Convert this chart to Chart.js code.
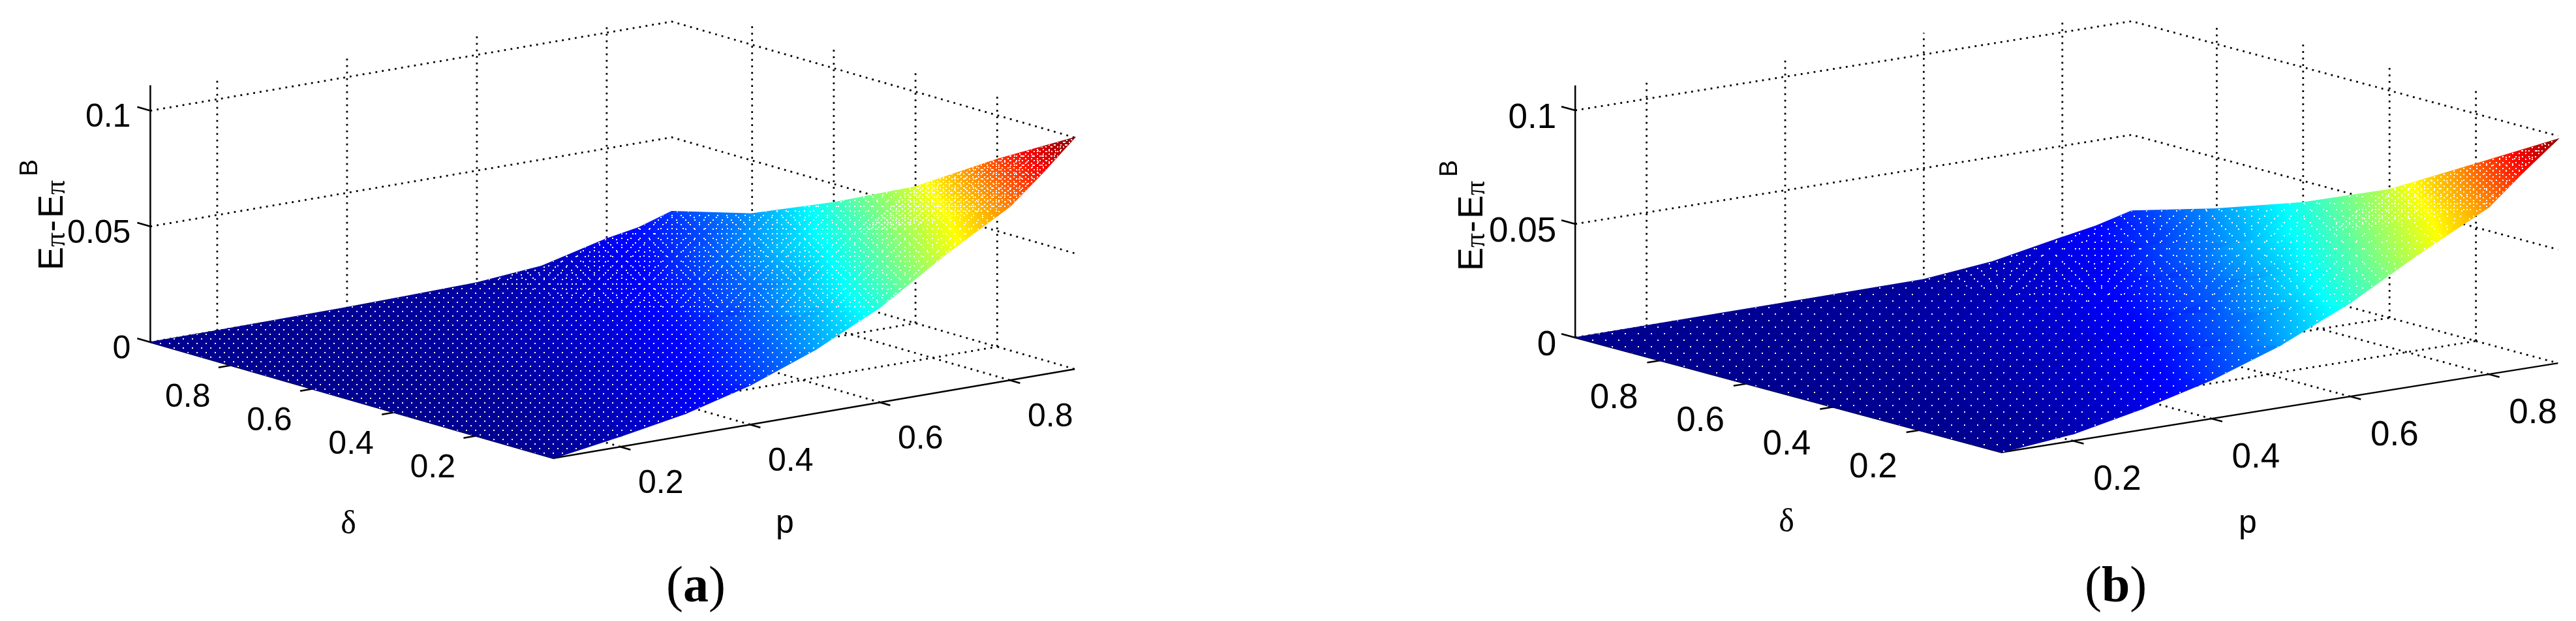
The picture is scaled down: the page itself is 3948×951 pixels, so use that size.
<!DOCTYPE html>
<html>
<head>
<meta charset="utf-8">
<title>E&#960;-E&#960;B surfaces</title>
<script src="https://cdn.jsdelivr.net/npm/chart.js@4/dist/chart.umd.min.js"></script>
<style>
  html, body { margin: 0; background: #fff; }
  #wrap { width: 3948px; height: 951px; }
</style>
</head>
<body>
<div id="wrap"><canvas id="chart" width="3948" height="951"></canvas></div>
<script>
// values
const pGrid = [0.097, 0.2, 0.3, 0.4, 0.5, 0.6, 0.7, 0.8, 0.85, 0.9];
const deltaGrid = [0.997, 0.8, 0.6, 0.4, 0.2, 0.01];

const surfaceA = [
  [0, 0.0001, 0.0003, 0.0005, 0.001, 0.0016, 0.004, 0.011, 0.0135, 0.018],
  [0, 0.0002, 0.0006, 0.0015, 0.003, 0.0055, 0.0105, 0.018, 0.022, 0.027],
  [0, 0.0003, 0.001, 0.003, 0.0065, 0.011, 0.0185, 0.029, 0.035, 0.042],
  [0, 0.0005, 0.002, 0.005, 0.0105, 0.018, 0.0275, 0.043, 0.05, 0.059],
  [0, 0.001, 0.005, 0.0105, 0.018, 0.028, 0.0435, 0.059, 0.069, 0.081],
  [0, 0.0045, 0.0095, 0.017, 0.0275, 0.041, 0.059, 0.075, 0.087, 0.1]
];
const surfaceB = [
  [0, 0.0002, 0.0004, 0.0006, 0.0008, 0.001, 0.004, 0.0098, 0.0125, 0.0165],
  [0, 0.0002, 0.0005, 0.0012, 0.0026, 0.005, 0.0095, 0.017, 0.0215, 0.0275],
  [0, 0.0003, 0.0009, 0.0025, 0.0055, 0.0105, 0.0175, 0.028, 0.034, 0.0405],
  [0, 0.0004, 0.0018, 0.0045, 0.0095, 0.017, 0.027, 0.042, 0.049, 0.0565],
  [0, 0.0008, 0.0042, 0.0098, 0.017, 0.0275, 0.0425, 0.058, 0.067, 0.078],
  [0, 0.003, 0.0092, 0.017, 0.0275, 0.0412, 0.058, 0.0735, 0.0865, 0.0986]
];

const pTicks = [0.2, 0.4, 0.6, 0.8];
const pTickLabels = ['0.2', '0.4', '0.6', '0.8'];
const deltaTicks = [0.8, 0.6, 0.4, 0.2];
const deltaTickLabels = ['0.8', '0.6', '0.4', '0.2'];
const zTicks = [0.1, 0.05, 0];
const zTickLabels = ['0.1', '0.05', '0'];
const zAxisTop = 0.111;
const zColorMax = 0.1;

// where each 3d box lands on the page
const panels = [
  {
    surface: surfaceA, caption: 'a', captionX: 1021, captionY: 921,
    x0: 758, xp: 995, xd: -626, y0: 720, yp: -170, yd: -180, yz: -3545,
    font: 50, zOff: [-30, 11], dOff: [-66, 50], pOff: [62, 57],
    deltaTitle: [534, 804], pTitle: [1203, 808], zTitleX: 96, zTitleY: 411,
    wallTopsP: [0.1085, 0.1085, 0.1085, 0.1034], wallTopsD: [0.1098, 0.1085, 0.1085, 0.1085],
    dots: [14, 14, 2], warmDots: [17, 17, 2], hotDots: [9, 7, 2]
  },
  {
    surface: surfaceB, caption: 'b', captionX: 3195, captionY: 921,
    x0: 2971.2, xp: 1062, xd: -662, y0: 710.9, yp: -170, yd: -178, yz: -3480,
    font: 53, zOff: [-29, 12], dOff: [-71, 58], pOff: [68, 60],
    deltaTitle: [2738, 801], pTitle: [3445, 808], zTitleX: 2272, zTitleY: 412,
    wallTopsP: [0.1075, 0.1075, 0.1095, 0.1043], wallTopsD: [0.1088, 0.11, 0.11, 0.11],
    dots: [20, 20, 2], warmDots: [23, 23, 2], hotDots: [10, 9, 2]
  }
];

const jetStops = [
  [0, '#00008f'], [0.125, '#0000ff'], [0.375, '#00ffff'],
  [0.625, '#ffff00'], [0.875, '#ff0000'], [1, '#800000']
];

const canvas = document.getElementById('chart');
const ctx2d = canvas.getContext('2d');

function project(v, p, d, z) {
  return { x: v.x0 + v.xp * p + v.xd * d, y: v.y0 + v.yp * p + v.yd * d + v.yz * z };
}

function jet(t) {
  t = Math.min(1, Math.max(0, t));
  for (let i = 1; i < jetStops.length; i++) {
    if (t <= jetStops[i][0]) {
      const [t0, c0] = jetStops[i - 1], [t1, c1] = jetStops[i];
      const f = (t - t0) / (t1 - t0);
      const rgb = [1, 3, 5].map(k => {
        const a = parseInt(c0.substr(k, 2), 16), b = parseInt(c1.substr(k, 2), 16);
        return Math.round(a + (b - a) * f);
      });
      return `rgb(${rgb.join(',')})`;
    }
  }
  return jetStops[jetStops.length - 1][1];
}

// colour ramp across one mesh cell, following the slope of z on the page
// the x and y scales run 1:1 with the canvas, so projected units are pixels here
function cellGradient(view, cell) {
  const px = cell.map(q => ({ ...project(view, q[0], q[1], q[2]), z: q[2] }));
  const [a, b, c, d] = px;
  const ux = (b.x + c.x - a.x - d.x) / 2, uy = (b.y + c.y - a.y - d.y) / 2, uz = (b.z + c.z - a.z - d.z) / 2;
  const vx = (c.x + d.x - a.x - b.x) / 2, vy = (c.y + d.y - a.y - b.y) / 2, vz = (c.z + d.z - a.z - b.z) / 2;
  const det = ux * vy - uy * vx;
  const gx = (uz * vy - vz * uy) / det, gy = (ux * vz - vx * uz) / det;
  const len2 = gx * gx + gy * gy;
  const zs = px.map(q => q.z);
  const lo = Math.min(...zs), hi = Math.max(...zs);
  if (!(len2 > 0) || hi === lo) return jet(lo / zColorMax);
  const cx = (a.x + b.x + c.x + d.x) / 4, cy = (a.y + b.y + c.y + d.y) / 4, cz = (a.z + b.z + c.z + d.z) / 4;
  const at = z => [cx + gx * (z - cz) / len2, cy + gy * (z - cz) / len2];
  const grad = ctx2d.createLinearGradient(...at(lo), ...at(hi));
  grad.addColorStop(0, jet(lo / zColorMax));
  jetStops.forEach(([t]) => {
    const z = t * zColorMax;
    if (z > lo && z < hi) grad.addColorStop((z - lo) / (hi - lo), jet(t));
  });
  grad.addColorStop(1, jet(hi / zColorMax));
  return grad;
}

// white pin holes the mesh leaves in the picture
function dotPattern([w, h, size]) {
  const tile = document.createElement('canvas');
  tile.width = w;
  tile.height = h;
  const c = tile.getContext('2d');
  c.fillStyle = '#fff';
  c.fillRect(0, 0, size, size);
  c.fillRect(Math.round(w / 2), Math.round(h / 2), size, size);
  return ctx2d.createPattern(tile, 'repeat');
}

function polyline(view, pts, opts) {
  return {
    data: pts.map(q => project(view, q[0], q[1], q[2])),
    showLine: true, pointRadius: 0, fill: false, tension: 0, clip: false,
    borderColor: '#000', borderWidth: 2.5,
    ...opts
  };
}

const dotted = { borderWidth: 2.8, borderDash: [2.8, 7.2] };

function panelDatasets(v) {
  const sets = [];
  const pLo = pGrid[0], pHi = pGrid[pGrid.length - 1];
  const dHi = deltaGrid[0], dLo = deltaGrid[deltaGrid.length - 1];

  // box grid: walls and floor
  zTicks.forEach(z => {
    sets.push(polyline(v, [[pLo, dHi, z], [pHi, dHi, z], [pHi, dLo, z]], dotted));
  });
  pTicks.forEach((p, i) => {
    sets.push(polyline(v, [[p, dHi, 0], [p, dHi, v.wallTopsP[i]]], dotted));
    sets.push(polyline(v, [[p, dLo, 0], [p, dHi, 0]], dotted));
  });
  deltaTicks.forEach((d, i) => {
    sets.push(polyline(v, [[pHi, d, 0], [pHi, d, v.wallTopsD[i]]], dotted));
    sets.push(polyline(v, [[pLo, d, 0], [pHi, d, 0]], dotted));
  });

  // solid axes and tick marks
  sets.push(polyline(v, [[pLo, dHi, 0], [pLo, dHi, zAxisTop]], {}));
  sets.push(polyline(v, [[pLo, dHi, 0], [pLo, dLo, 0], [pHi, dLo, 0]], {}));
  zTicks.forEach(z => sets.push(polyline(v, [[pLo, dHi, z], [pLo, dHi + 0.032, z]], {})));
  deltaTicks.forEach(d => sets.push(polyline(v, [[pLo, d, 0], [pLo - 0.019, d, 0]], {})));
  pTicks.forEach(p => sets.push(polyline(v, [[p, dLo, 0], [p, dLo - 0.025, 0]], {})));

  // surface cells, back to front
  for (let j = 0; j < deltaGrid.length - 1; j++) {
    for (let i = 0; i < pGrid.length - 1; i++) {
      const cell = [
        [pGrid[i], deltaGrid[j], v.surface[j][i]],
        [pGrid[i + 1], deltaGrid[j], v.surface[j][i + 1]],
        [pGrid[i + 1], deltaGrid[j + 1], v.surface[j + 1][i + 1]],
        [pGrid[i], deltaGrid[j + 1], v.surface[j + 1][i]]
      ];
      const paint = cellGradient(v, cell);
      sets.push(polyline(v, [...cell, cell[0]], {
        fill: 'shape', backgroundColor: paint, borderColor: paint, borderWidth: 1.4
      }));
    }
  }

  // pin holes: sparse on the blue part, closer towards the red tip
  const outline = (cols, rows) => {
    const pts = [];
    cols.forEach(i => pts.push([pGrid[i], deltaGrid[rows[0]], v.surface[rows[0]][i]]));
    rows.forEach(j => pts.push([pGrid[cols[cols.length - 1]], deltaGrid[j], v.surface[j][cols[cols.length - 1]]]));
    [...cols].reverse().forEach(i => pts.push([pGrid[i], deltaGrid[rows[rows.length - 1]], v.surface[rows[rows.length - 1]][i]]));
    [...rows].reverse().forEach(j => pts.push([pGrid[cols[0]], deltaGrid[j], v.surface[j][cols[0]]]));
    return pts;
  };
  const holes = (cols, rows, tile) => sets.push(polyline(v, outline(cols, rows), {
    fill: 'shape', backgroundColor: dotPattern(tile), borderWidth: 0
  }));
  holes(pGrid.map((_, i) => i), deltaGrid.map((_, j) => j), v.dots);
  holes([5, 6, 7, 8, 9], deltaGrid.map((_, j) => j), v.warmDots);
  holes([7, 8, 9], [3, 4, 5], v.hotDots);
  return sets;
}

const surfaceText = {
  id: 'surfaceText',
  afterDatasetsDraw(chart) {
    const c = chart.ctx;
    const sx = x => chart.scales.x.getPixelForValue(x), sy = y => chart.scales.y.getPixelForValue(y);
    c.save();
    c.fillStyle = '#000';
    panels.forEach(v => {
      const pLo = pGrid[0], dHi = deltaGrid[0], dLo = deltaGrid[deltaGrid.length - 1];
      const sans = `${v.font}px "Liberation Sans"`;
      const label = (txt, pt, off, align) => {
        c.font = sans;
        c.textAlign = align;
        c.textBaseline = 'middle';
        c.fillText(txt, sx(pt.x) + off[0], sy(pt.y) + off[1]);
      };
      zTicks.forEach((z, i) => label(zTickLabels[i], project(v, pLo, dHi, z), v.zOff, 'right'));
      deltaTicks.forEach((d, i) => label(deltaTickLabels[i], project(v, pLo, d, 0), v.dOff, 'center'));
      pTicks.forEach((p, i) => label(pTickLabels[i], project(v, p, dLo, 0), v.pOff, 'center'));

      c.textAlign = 'center';
      c.textBaseline = 'middle';
      c.font = '50px "Liberation Serif"';
      c.fillText('\u03b4', v.deltaTitle[0], v.deltaTitle[1]);
      c.font = '50px "Liberation Sans"';
      c.fillText('p', v.pTitle[0], v.pTitle[1] - 6);

      // vertical z title, each piece placed on its own
      c.textBaseline = 'alphabetic';
      c.textAlign = 'left';
      const piece = (txt, font, along, across) => {
        c.save();
        c.translate(v.zTitleX + across, v.zTitleY - along);
        c.rotate(-Math.PI / 2);
        c.font = font;
        c.fillText(txt, 0, 0);
        c.restore();
      };
      piece('E', '54px "Liberation Sans"', -3, 0);
      piece('\u03c0', '44px "Liberation Serif"', 33, 3);
      piece('-', '54px "Liberation Sans"', 56, 0);
      piece('E', '54px "Liberation Sans"', 77, 0);
      piece('\u03c0', '44px "Liberation Serif"', 113, 3);
      piece('B', '39px "Liberation Sans"', 141, -39);

      // panel caption with the bold letter
      c.textAlign = 'left';
      let x = v.captionX;
      [['(', '78px "Liberation Serif"'], [v.caption, 'bold 78px "Liberation Serif"'], [')', '78px "Liberation Serif"']].forEach(([t, f]) => {
        c.font = f;
        c.fillText(t, x, v.captionY);
        x += c.measureText(t).width;
      });
    });
    c.restore();
  }
};

// first dataset is painted last, so flip the back to front list
const datasets = panels.flatMap(panelDatasets).reverse();

new Chart(canvas, {
  type: 'scatter',
  data: { datasets },
  plugins: [surfaceText],
  options: {
    responsive: false,
    animation: false,
    events: [],
    layout: { padding: 0 },
    plugins: { legend: { display: false }, tooltip: { enabled: false } },
    scales: {
      x: { type: 'linear', display: false, min: 0, max: canvas.width },
      y: { type: 'linear', display: false, min: 0, max: canvas.height, reverse: true }
    }
  }
});
</script>
</body>
</html>
